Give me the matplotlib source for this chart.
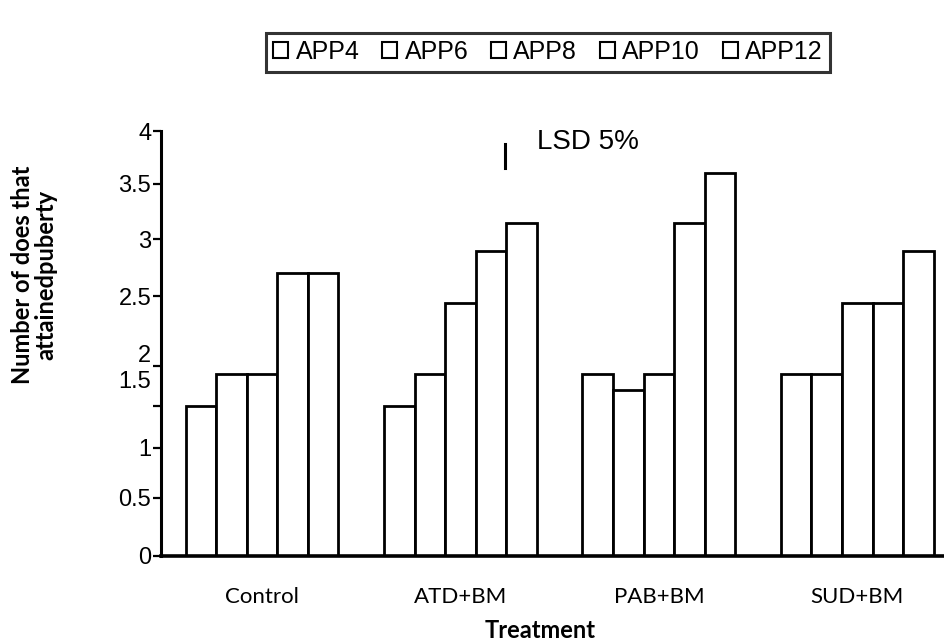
import numpy as np
import matplotlib
matplotlib.use("Agg")
import matplotlib.pyplot as plt
from matplotlib.patches import Patch
from matplotlib.transforms import ScaledTranslation

# data
treatments = ["Control", "ATD+BM", "PAB+BM", "SUD+BM"]
series = ["APP4", "APP6", "APP8", "APP10", "APP12"]
app4 = [1.5, 1.5, 1.9, 1.9]
app6 = [1.9, 1.9, 1.7, 1.9]
app8 = [1.9, 2.45, 1.9, 2.45]
app10 = [2.7, 2.9, 3.15, 2.45]
app12 = [2.7, 3.15, 3.6, 2.9]
values = [app4, app6, app8, app10, app12]

ytick_values = [0, 0.5, 1, 1.5, 2, 2.5, 3, 3.5, 4]
ytick_labels = ["0", "0.5", "1", "1.5", "2", "2.5", "3", "3.5", "4"]
lsd_low, lsd_high = 3.65, 3.88

# the original axis is not evenly spaced; where each tick sits along the axis
axis_stretch = [0, 0.55, 1.02, 1.415, 1.79, 2.445, 2.98, 3.505, 4.0]

ext_v = [-1] + ytick_values + [5]
ext_u = [-1] + axis_stretch + [5]

def forward(v):
    return np.interp(v, ext_v, ext_u)

def inverse(u):
    return np.interp(u, ext_u, ext_v)

plt.rcParams['font.family'] = ['Liberation Sans', 'DejaVu Sans']
label_font = ['Lato', 'DejaVu Sans']

fig = plt.figure(figsize=(9.44, 6.41), dpi=100)
ax = fig.add_axes([161 / 944, 1 - 556 / 641, 782 / 944, 425 / 641])
ax.set_yscale('function', functions=(forward, inverse))

x = np.arange(len(treatments))
w = 0.154
for i, vals in enumerate(values):
    ax.bar(x + (i - 2) * w, vals, width=w, facecolor='white',
           edgecolor='black', linewidth=2, label=series[i])

ax.set_xlim(-0.509, 3.432)
ax.set_ylim(0, 4)

for s in ['top', 'right']:
    ax.spines[s].set_visible(False)
ax.spines['left'].set_linewidth(2.2)
ax.spines['bottom'].set_linewidth(2.6)

ax.set_yticks(ytick_values)
ax.set_yticklabels(ytick_labels)
ax.tick_params(axis='y', length=6, width=1.6, labelsize=17, pad=1)
ax.set_xticks(x)
ax.set_xticklabels(treatments, family=label_font, fontsize=16)
ax.tick_params(axis='x', length=0, pad=22)

# "2" and "1.5" labels sit above their ticks in the original
shifts = {4: 9, 3: 19}
for i, t in enumerate(ax.yaxis.get_major_ticks()):
    if i in shifts:
        t.label1.set_transform(t.label1.get_transform() +
                               ScaledTranslation(0, shifts[i] / 72, fig.dpi_scale_trans))

# LSD marker
lsd_x = 1.227
ax.plot([lsd_x, lsd_x], [lsd_low, lsd_high], color='black', linewidth=2.2,
        clip_on=False)
ax.text(1.385, 3.9, "LSD 5%", fontsize=20, va='center', ha='left')

fig.text(540 / 944, 1 - 630 / 641, "Treatment", fontsize=17, fontweight='bold',
         family=label_font, ha='center', va='center')
fig.text(34 / 944, 1 - 275 / 641, "Number of does that\nattainedpuberty",
         fontsize=17, fontweight='bold', family=label_font,
         rotation=90, ha='center', va='center', linespacing=1.0)

handles = [Patch(facecolor='white', edgecolor='black', linewidth=1.5) for _ in series]
leg = fig.legend(handles, series, loc='center', ncol=5,
                 bbox_to_anchor=(548 / 944, 1 - 52 / 641),
                 fontsize=18, frameon=True, fancybox=False,
                 handlelength=0.6, handleheight=0.6, handletextpad=0.3,
                 columnspacing=0.9, borderpad=0.3, borderaxespad=0)
leg.get_frame().set_edgecolor('black')
leg.get_frame().set_linewidth(2.2)

fig.savefig("out.png", dpi=100)
